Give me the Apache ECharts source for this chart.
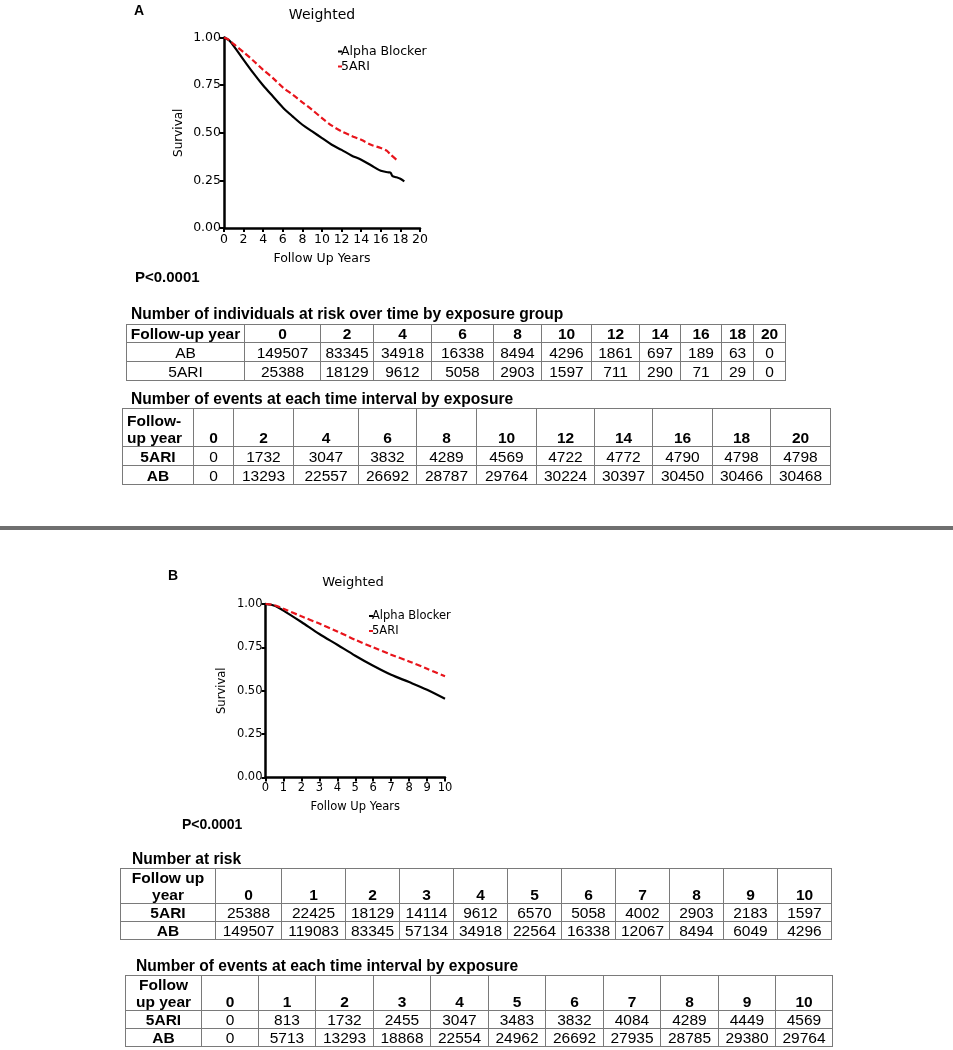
<!DOCTYPE html>
<html>
<head>
<meta charset="utf-8">
<script src="https://cdn.jsdelivr.net/npm/echarts@6/dist/echarts.min.js"></script>
<style>
  html, body { margin: 0; padding: 0; background: #fff; }
  #page { position: relative; width: 953px; height: 1050px; overflow: hidden; }
  #chart { position: absolute; left: 0; top: 0; width: 953px; height: 1050px; }
  .txt { position: absolute; font-family: "Liberation Sans", Arial, sans-serif; color: #000; white-space: nowrap; }
  .bold { font-weight: bold; }
  table.t { position: absolute; border-collapse: collapse; table-layout: fixed;
    font-family: "Liberation Sans", Arial, sans-serif; font-size: 15.5px; color: #000; }
  table.t td { border: 1px solid #7a7a7a; padding: 0; text-align: center; white-space: nowrap;
    overflow: hidden; line-height: 17px; }
  table.t tr.head td { font-weight: bold; font-size: 15.5px; vertical-align: bottom; }
  #sep { position: absolute; left: 0; top: 526px; width: 953px; height: 4px; background: #6f6f6f; }
</style>
</head>
<body>
<div id="page">
  <div id="chart"></div>
  <div id="sep"></div>
</div>
<script>
// ---- survival curves ----
const timeA_ab = [0, 0.5, 1, 2, 3, 4, 5, 6, 7, 8, 9, 10, 11, 12, 13, 14, 15, 16, 16.8, 17.0, 17.2, 17.6, 18, 18.4];
const survA_ab = [1.0, 0.986, 0.955, 0.883, 0.813, 0.748, 0.69, 0.633, 0.586, 0.542, 0.507, 0.472, 0.437, 0.41, 0.381, 0.358, 0.329, 0.30, 0.292, 0.29, 0.272, 0.266, 0.258, 0.245];
const timeA_5ari = [0, 0.5, 1, 2, 3, 4, 5, 6, 7, 8, 9, 10, 11, 12, 13, 14, 15, 16, 16.6, 17, 17.8];
const survA_5ari = [1.0, 0.988, 0.965, 0.923, 0.878, 0.83, 0.787, 0.738, 0.70, 0.66, 0.62, 0.577, 0.537, 0.507, 0.484, 0.463, 0.437, 0.42, 0.406, 0.385, 0.35];

const timeB = [0, 0.5, 1, 2, 3, 4, 5, 6, 7, 8, 9, 10];
const survB_ab = [1.0, 0.99, 0.962, 0.896, 0.827, 0.765, 0.702, 0.644, 0.592, 0.55, 0.506, 0.454];
const survB_5ari = [1.0, 0.993, 0.973, 0.929, 0.887, 0.842, 0.794, 0.75, 0.708, 0.669, 0.627, 0.583];

// ---- tables ----
const yearsA = [0, 2, 4, 6, 8, 10, 12, 14, 16, 18, 20];
const riskA_ab = [149507, 83345, 34918, 16338, 8494, 4296, 1861, 697, 189, 63, 0];
const riskA_5ari = [25388, 18129, 9612, 5058, 2903, 1597, 711, 290, 71, 29, 0];
const eventsA_5ari = [0, 1732, 3047, 3832, 4289, 4569, 4722, 4772, 4790, 4798, 4798];
const eventsA_ab = [0, 13293, 22557, 26692, 28787, 29764, 30224, 30397, 30450, 30466, 30468];

const yearsB = [0, 1, 2, 3, 4, 5, 6, 7, 8, 9, 10];
const riskB_5ari = [25388, 22425, 18129, 14114, 9612, 6570, 5058, 4002, 2903, 2183, 1597];
const riskB_ab = [149507, 119083, 83345, 57134, 34918, 22564, 16338, 12067, 8494, 6049, 4296];
const eventsB_5ari = [0, 813, 1732, 2455, 3047, 3483, 3832, 4084, 4289, 4449, 4569];
const eventsB_ab = [0, 5713, 13293, 18868, 22554, 24962, 26692, 27935, 28785, 29380, 29764];

const pairs = (xs, ys) => xs.map((x, i) => [x, ys[i]]);

// ---- plain text labels ----
const page = document.getElementById("page");
const addText = (text, left, cy, size, bold) => {
  const d = document.createElement("div");
  d.className = "txt" + (bold ? " bold" : "");
  d.style.left = left + "px";
  d.style.top = (cy - 10) + "px";
  d.style.lineHeight = "20px";
  d.style.fontSize = size + "px";
  d.textContent = text;
  page.appendChild(d);
};
addText("A", 134, 10, 14, true);
addText("P<0.0001", 135, 277, 15, true);
addText("Number of individuals at risk over time by exposure group", 131, 314, 15.6, true);
addText("Number of events at each time interval by exposure", 131, 399, 15.6, true);
addText("B", 168, 575, 14, true);
addText("P<0.0001", 182, 824, 14, true);
addText("Number at risk", 132, 859, 15.6, true);
addText("Number of events at each time interval by exposure", 136, 966, 15.6, true);

/**
 * build one of the number tables
 */
const addTable = (cfg) => {
  const t = document.createElement("table");
  t.className = "t";
  t.style.left = cfg.left + "px";
  t.style.top = cfg.top + "px";
  t.style.width = cfg.widths.reduce((p, n) => p + n, 0) + "px";
  let html = "<colgroup>" + cfg.widths.map((w) => `<col style="width:${w}px">`).join("") + "</colgroup>";
  html += `<tr class="head" style="height:${cfg.headH}px"><td style="text-align:${cfg.headAlign || "center"};padding-left:${cfg.headPad || 0}px">${cfg.headLabel}</td>`;
  html += cfg.years.map((y) => `<td>${y}</td>`).join("") + "</tr>";
  cfg.rows.forEach((r) => {
    html += `<tr style="height:${cfg.rowH}px"><td style="font-weight:${cfg.boldRows ? "bold" : "normal"}">${r[0]}</td>`;
    html += r[1].map((v) => `<td>${v}</td>`).join("") + "</tr>";
  });
  t.innerHTML = html;
  page.appendChild(t);
};

addTable({
  left: 126, top: 324, headH: 18, rowH: 19, headLabel: "Follow-up year",
  widths: [118, 76, 53, 58, 62, 48, 50, 48, 41, 41, 32, 32],
  years: yearsA, rows: [["AB", riskA_ab], ["5ARI", riskA_5ari]], boldRows: false
});
addTable({
  left: 122, top: 408, headH: 38, rowH: 19, headLabel: "Follow-<br>up year", headAlign: "left", headPad: 4,
  widths: [71, 40, 60, 65, 58, 60, 60, 58, 58, 60, 58, 60],
  years: yearsA, rows: [["5ARI", eventsA_5ari], ["AB", eventsA_ab]], boldRows: true
});
addTable({
  left: 120, top: 868, headH: 34, rowH: 18, headLabel: "Follow up<br>year",
  widths: [95, 66, 64, 54, 54, 54, 54, 54, 54, 54, 54, 54],
  years: yearsB, rows: [["5ARI", riskB_5ari], ["AB", riskB_ab]], boldRows: true
});
addTable({
  left: 125, top: 975, headH: 35, rowH: 18, headLabel: "Follow<br>up year",
  widths: [76, 57, 57, 58, 57, 58, 57, 58, 57, 58, 57, 57],
  years: yearsB, rows: [["5ARI", eventsB_5ari], ["AB", eventsB_ab]], boldRows: true
});

// ---- charts ----
const FONT = "DejaVu Sans";
const axisCommon = (size) => ({
  axisLine: { show: true, onZero: true, lineStyle: { color: "#000", width: 2.5 } },
  axisTick: { show: true, inside: false, length: 4, lineStyle: { color: "#000", width: 2 } },
  axisLabel: { color: "#000", fontSize: size, fontFamily: FONT, margin: 5 },
  splitLine: { show: false },
  nameLocation: "middle",
  nameTextStyle: { color: "#000", fontSize: size, fontFamily: FONT }
});

const myChart = echarts.init(document.getElementById("chart"), null, { renderer: "canvas" });
const option = {
  animation: false,
  grid: [
    { left: 224, top: 37.5, width: 196, height: 190.5 },
    { left: 265.5, top: 604, width: 179.5, height: 173.5 }
  ],
  xAxis: [
    Object.assign(axisCommon(12.5), { type: "value", gridIndex: 0, min: 0, max: 20, interval: 2, name: "Follow Up Years", nameGap: 24 }),
    Object.assign(axisCommon(11.5), { type: "value", gridIndex: 1, min: 0, max: 10, interval: 1, name: "Follow Up Years", nameGap: 24 })
  ],
  yAxis: [
    Object.assign(axisCommon(12.5), { type: "value", gridIndex: 0, min: 0, max: 1, interval: 0.25, name: "Survival", nameGap: 39,
      axisLabel: { color: "#000", fontSize: 12.5, fontFamily: FONT, margin: 3, formatter: (v) => v.toFixed(2) },
      nameTextStyle: { color: "#000", fontSize: 12, fontFamily: FONT } }),
    Object.assign(axisCommon(11.5), { type: "value", gridIndex: 1, min: 0, max: 1, interval: 0.25, name: "Survival", nameGap: 37,
      axisLabel: { color: "#000", fontSize: 11.5, fontFamily: FONT, margin: 3, formatter: (v) => v.toFixed(2) },
      nameTextStyle: { color: "#000", fontSize: 11.5, fontFamily: FONT } })
  ],
  legend: [
    { left: 333, top: 40, orient: "vertical", icon: "rect", itemWidth: 4, itemHeight: 2, itemGap: 2,
      textStyle: { color: "#000", fontSize: 12.5, fontFamily: FONT, padding: [0, 0, 0, -6] },
      data: ["Alpha Blocker", "5ARI"] },
    { left: 364, top: 605, orient: "vertical", icon: "rect", itemWidth: 4, itemHeight: 2, itemGap: 3,
      textStyle: { color: "#000", fontSize: 11.5, fontFamily: FONT, padding: [0, 0, 0, -6] },
      data: ["Alpha Blocker", "5ARI"] }
  ],
  graphic: [
    { type: "text", x: 322, y: 15, style: { text: "Weighted", align: "center", verticalAlign: "middle", font: "14px 'DejaVu Sans'", fill: "#000" } },
    { type: "text", x: 353, y: 583, style: { text: "Weighted", align: "center", verticalAlign: "middle", font: "13px 'DejaVu Sans'", fill: "#000" } }
  ],
  series: [
    { name: "Alpha Blocker", type: "line", xAxisIndex: 0, yAxisIndex: 0, data: pairs(timeA_ab, survA_ab),
      smooth: 0.3, showSymbol: false, color: "#000", lineStyle: { color: "#000", width: 2.2 } },
    { name: "5ARI", type: "line", xAxisIndex: 0, yAxisIndex: 0, data: pairs(timeA_5ari, survA_5ari),
      smooth: 0.3, showSymbol: false, color: "#e8141b", lineStyle: { color: "#e8141b", width: 2.2, type: [6, 3] } },
    { name: "Alpha Blocker", type: "line", xAxisIndex: 1, yAxisIndex: 1, data: pairs(timeB, survB_ab),
      smooth: 0.3, showSymbol: false, color: "#000", lineStyle: { color: "#000", width: 2.2 } },
    { name: "5ARI", type: "line", xAxisIndex: 1, yAxisIndex: 1, data: pairs(timeB, survB_5ari),
      smooth: 0.3, showSymbol: false, color: "#e8141b", lineStyle: { color: "#e8141b", width: 2.2, type: [6, 3] } }
  ]
};
myChart.setOption(option);
</script>
</body>
</html>
